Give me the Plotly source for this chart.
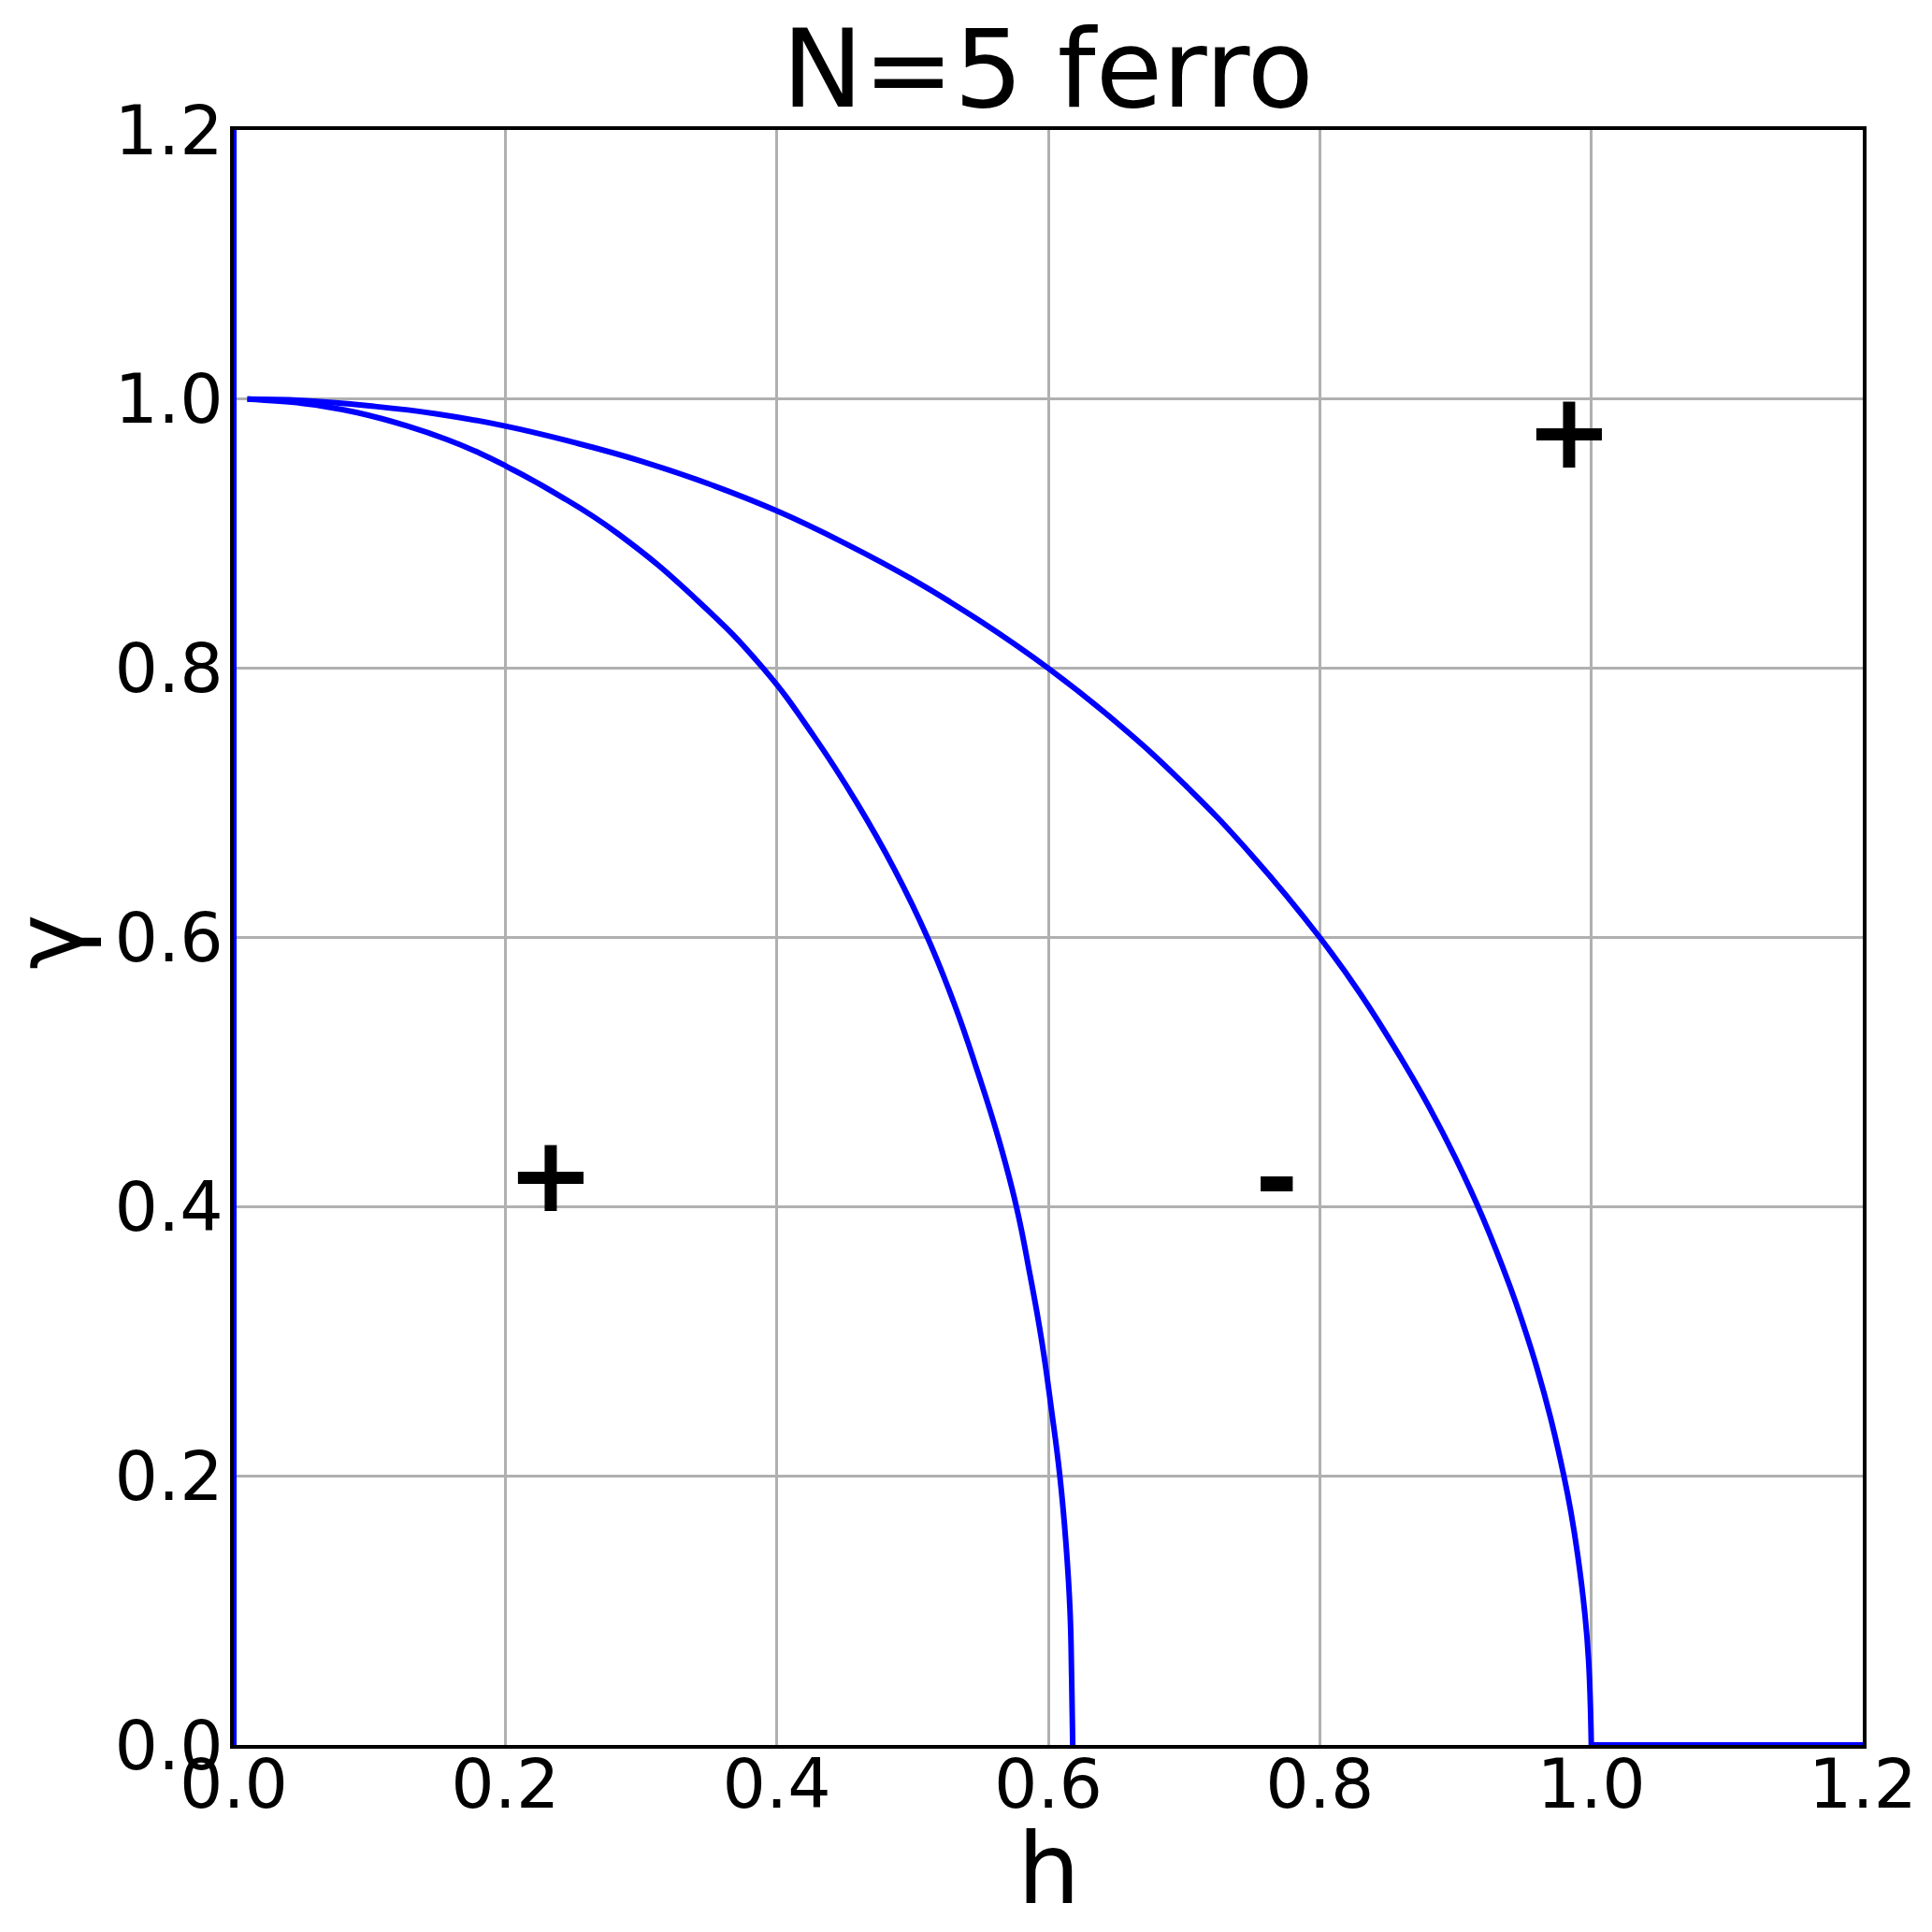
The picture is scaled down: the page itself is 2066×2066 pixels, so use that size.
import plotly.graph_objects as go

# Inner boundary curve (h, gamma)
inner_h = [0.010, 0.050, 0.064, 0.091, 0.128, 0.157, 0.181, 0.201, 0.237, 0.283,
           0.342, 0.390, 0.427, 0.459, 0.487, 0.511, 0.531, 0.548, 0.5635, 0.5765,
           0.5864, 0.5952, 0.6022, 0.6085, 0.613, 0.616, 0.6172, 0.618]
inner_g = [1.000, 0.997, 0.995, 0.990, 0.980, 0.970, 0.960, 0.950, 0.930, 0.900,
           0.850, 0.800, 0.750, 0.700, 0.650, 0.600, 0.550, 0.500, 0.450, 0.400,
           0.350, 0.300, 0.250, 0.200, 0.150, 0.100, 0.050, 0.000]

# Outer boundary curve (h, gamma)
outer_h = [0.010, 0.050, 0.100, 0.150, 0.200, 0.250, 0.300, 0.350, 0.400, 0.450,
           0.500, 0.550, 0.600, 0.650, 0.700, 0.750, 0.800, 0.830, 0.860, 0.880,
           0.900, 0.920, 0.940, 0.950, 0.960, 0.970, 0.980, 0.985, 0.990, 0.995,
           0.998, 1.000]
outer_g = [1.000, 0.999, 0.995, 0.989, 0.980, 0.968, 0.954, 0.937, 0.917, 0.893,
           0.866, 0.835, 0.800, 0.760, 0.714, 0.661, 0.600, 0.558, 0.510, 0.475,
           0.436, 0.392, 0.341, 0.312, 0.280, 0.243, 0.199, 0.173, 0.141, 0.100,
           0.063, 0.000]

# Straight boundaries: along gamma = 0 beyond h = 1, and along h = 0
floor_h = [1.0, 1.2]
floor_g = [0.0, 0.0]
edge_h = [0.0, 0.0]
edge_g = [0.0, 1.2]

# Region labels
label_text = ["+", "-", "+"]
label_h = [0.2335, 0.768, 0.984]
label_g = [0.424, 0.422, 0.976]

tick_vals = [0.0, 0.2, 0.4, 0.6, 0.8, 1.0, 1.2]
tick_text = ["0.0", "0.2", "0.4", "0.6", "0.8", "1.0", "1.2"]

FONT = "DejaVu Sans"
BLUE = "#0000ff"

fig = go.Figure()
for xs, ys, shp in [(edge_h, edge_g, "linear"), (inner_h, inner_g, "spline"),
                    (outer_h, outer_g, "spline"), (floor_h, floor_g, "linear")]:
    fig.add_trace(go.Scatter(x=xs, y=ys, mode="lines",
                             line=dict(color=BLUE, width=6, shape=shp, smoothing=1.3),
                             showlegend=False, hoverinfo="skip"))

for t, x, y in zip(label_text, label_h, label_g):
    fig.add_annotation(x=x, y=y, text=t, showarrow=False, xref="x", yref="y",
                       xanchor="center", yanchor="middle",
                       font=dict(family=FONT, size=112, color="black", weight="bold"))

# Axis titles
fig.add_annotation(x=0.5, y=-0.077, xref="paper", yref="paper", text="h", showarrow=False,
                   xanchor="center", yanchor="middle",
                   font=dict(family=FONT, size=106, color="black"))
fig.add_annotation(x=-0.113, y=0.497, xref="paper", yref="paper", text="γ", showarrow=False,
                   xanchor="center", yanchor="middle", textangle=-90,
                   font=dict(family=FONT, size=100, color="black"))

axis_common = dict(
    range=[0, 1.2], tickvals=tick_vals, ticktext=tick_text,
    showgrid=True, gridcolor="#b0b0b0", gridwidth=2.5,
    showline=True, linecolor="black", linewidth=3.5, mirror=True,
    ticks="", zeroline=False, automargin=False,
    tickfont=dict(family=FONT, size=73, color="black"),
)

fig.update_layout(
    width=2050, height=2050,
    margin=dict(l=242, r=66, t=131, b=192, autoexpand=False),
    paper_bgcolor="white", plot_bgcolor="white",
    title=dict(text="N=5 ferro", x=0.5427, xanchor="center", y=0.968, yanchor="middle",
               font=dict(family=FONT, size=116, color="black")),
    xaxis=dict(**axis_common, ticklabelstandoff=-24),
    yaxis=dict(**axis_common, ticklabelstandoff=-7),
)

fig.write_html("out.html")
